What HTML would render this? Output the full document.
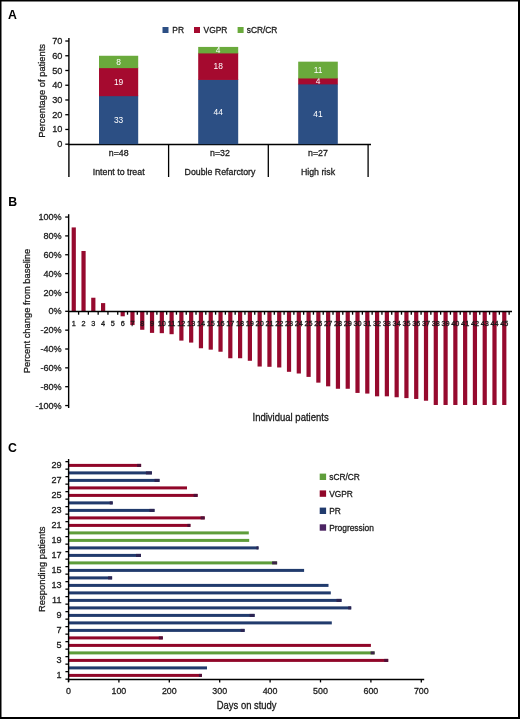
<!DOCTYPE html>
<html><head><meta charset="utf-8"><style>
html,body{margin:0;padding:0;background:#fff;}
svg{display:block;font-family:"Liberation Sans", sans-serif;will-change:transform;}
</style></head><body>
<svg width="520" height="719" viewBox="0 0 520 719">
<rect x="0" y="0" width="520" height="719" fill="#fff"/>
<rect x="0.00" y="0.00" width="520.00" height="1.50" fill="#000"/>
<rect x="0.00" y="0.00" width="1.50" height="719.00" fill="#000"/>
<rect x="518.00" y="0.00" width="2.00" height="719.00" fill="#000"/>
<rect x="0.00" y="717.00" width="520.00" height="2.00" fill="#000"/>
<text transform="translate(8.0,18.85) scale(0.92 1)" font-size="13.4" font-weight="bold" fill="#000">A</text>
<text transform="translate(8.3,205.85) scale(0.92 1)" font-size="13.4" font-weight="bold" fill="#000">B</text>
<text transform="translate(7.9,452.3) scale(0.92 1)" font-size="13.4" font-weight="bold" fill="#000">C</text>
<line x1="68.90" y1="38.00" x2="68.90" y2="177.00" stroke="#000" stroke-width="1.4"/>
<line x1="68.20" y1="144.50" x2="371.00" y2="144.50" stroke="#000" stroke-width="1.4"/>
<line x1="65.30" y1="144.20" x2="68.90" y2="144.20" stroke="#000" stroke-width="1.3"/>
<text x="62.40" y="147.20" font-size="9.2" text-anchor="end" fill="#1a1a1a" font-weight="normal" stroke="#1a1a1a" stroke-width="0.28" >0</text>
<line x1="65.30" y1="129.46" x2="68.90" y2="129.46" stroke="#000" stroke-width="1.3"/>
<text x="62.40" y="132.46" font-size="9.2" text-anchor="end" fill="#1a1a1a" font-weight="normal" stroke="#1a1a1a" stroke-width="0.28" >10</text>
<line x1="65.30" y1="114.72" x2="68.90" y2="114.72" stroke="#000" stroke-width="1.3"/>
<text x="62.40" y="117.72" font-size="9.2" text-anchor="end" fill="#1a1a1a" font-weight="normal" stroke="#1a1a1a" stroke-width="0.28" >20</text>
<line x1="65.30" y1="99.98" x2="68.90" y2="99.98" stroke="#000" stroke-width="1.3"/>
<text x="62.40" y="102.98" font-size="9.2" text-anchor="end" fill="#1a1a1a" font-weight="normal" stroke="#1a1a1a" stroke-width="0.28" >30</text>
<line x1="65.30" y1="85.24" x2="68.90" y2="85.24" stroke="#000" stroke-width="1.3"/>
<text x="62.40" y="88.24" font-size="9.2" text-anchor="end" fill="#1a1a1a" font-weight="normal" stroke="#1a1a1a" stroke-width="0.28" >40</text>
<line x1="65.30" y1="70.50" x2="68.90" y2="70.50" stroke="#000" stroke-width="1.3"/>
<text x="62.40" y="73.50" font-size="9.2" text-anchor="end" fill="#1a1a1a" font-weight="normal" stroke="#1a1a1a" stroke-width="0.28" >50</text>
<line x1="65.30" y1="55.76" x2="68.90" y2="55.76" stroke="#000" stroke-width="1.3"/>
<text x="62.40" y="58.76" font-size="9.2" text-anchor="end" fill="#1a1a1a" font-weight="normal" stroke="#1a1a1a" stroke-width="0.28" >60</text>
<line x1="65.30" y1="41.02" x2="68.90" y2="41.02" stroke="#000" stroke-width="1.3"/>
<text x="62.40" y="44.02" font-size="9.2" text-anchor="end" fill="#1a1a1a" font-weight="normal" stroke="#1a1a1a" stroke-width="0.28" >70</text>
<line x1="168.60" y1="144.00" x2="168.60" y2="177.00" stroke="#000" stroke-width="1.3"/>
<line x1="268.30" y1="144.00" x2="268.30" y2="177.00" stroke="#000" stroke-width="1.3"/>
<line x1="368.10" y1="144.00" x2="368.10" y2="177.00" stroke="#000" stroke-width="1.3"/>
<rect x="99.00" y="95.56" width="39.20" height="48.64" fill="#2c4f84"/>
<text x="118.60" y="122.88" font-size="8.4" text-anchor="middle" fill="#fff" font-weight="normal" >33</text>
<rect x="99.00" y="67.55" width="39.20" height="28.61" fill="#a50a2f"/>
<text x="118.60" y="84.55" font-size="8.4" text-anchor="middle" fill="#fff" font-weight="normal" >19</text>
<rect x="99.00" y="55.76" width="39.20" height="12.39" fill="#6aaa3c"/>
<text x="118.60" y="64.66" font-size="8.4" text-anchor="middle" fill="#fff" font-weight="normal" >8</text>
<rect x="198.20" y="79.34" width="40.00" height="64.86" fill="#2c4f84"/>
<text x="218.20" y="114.77" font-size="8.4" text-anchor="middle" fill="#fff" font-weight="normal" >44</text>
<rect x="198.20" y="52.81" width="40.00" height="27.13" fill="#a50a2f"/>
<text x="218.20" y="69.08" font-size="8.4" text-anchor="middle" fill="#fff" font-weight="normal" >18</text>
<rect x="198.20" y="46.92" width="40.00" height="6.50" fill="#6aaa3c"/>
<text x="218.20" y="52.86" font-size="8.4" text-anchor="middle" fill="#fff" font-weight="normal" >4</text>
<rect x="298.20" y="83.77" width="39.60" height="60.43" fill="#2c4f84"/>
<text x="318.00" y="116.98" font-size="8.4" text-anchor="middle" fill="#fff" font-weight="normal" >41</text>
<rect x="298.20" y="77.87" width="39.60" height="6.50" fill="#a50a2f"/>
<text x="318.00" y="83.82" font-size="8.4" text-anchor="middle" fill="#fff" font-weight="normal" >4</text>
<rect x="298.20" y="61.66" width="39.60" height="16.81" fill="#6aaa3c"/>
<text x="318.00" y="72.76" font-size="8.4" text-anchor="middle" fill="#fff" font-weight="normal" >11</text>
<text x="118.70" y="155.60" font-size="8.8" text-anchor="middle" fill="#1a1a1a" font-weight="normal" stroke="#1a1a1a" stroke-width="0.28" >n=48</text>
<text x="118.70" y="174.60" font-size="8.8" text-anchor="middle" fill="#1a1a1a" font-weight="normal" stroke="#1a1a1a" stroke-width="0.28" >Intent to treat</text>
<text x="220.00" y="155.60" font-size="8.8" text-anchor="middle" fill="#1a1a1a" font-weight="normal" stroke="#1a1a1a" stroke-width="0.28" >n=32</text>
<text x="220.00" y="174.60" font-size="8.8" text-anchor="middle" fill="#1a1a1a" font-weight="normal" stroke="#1a1a1a" stroke-width="0.28" >Double Refarctory</text>
<text x="318.00" y="155.60" font-size="8.8" text-anchor="middle" fill="#1a1a1a" font-weight="normal" stroke="#1a1a1a" stroke-width="0.28" >n=27</text>
<text x="318.00" y="174.60" font-size="8.8" text-anchor="middle" fill="#1a1a1a" font-weight="normal" stroke="#1a1a1a" stroke-width="0.28" >High risk</text>
<rect x="162.50" y="27.00" width="6.00" height="6.00" fill="#2c4f84"/>
<text x="172.30" y="33.00" font-size="8.4" text-anchor="start" fill="#1a1a1a" font-weight="normal" stroke="#1a1a1a" stroke-width="0.28" >PR</text>
<rect x="194.00" y="27.00" width="6.00" height="6.00" fill="#a50a2f"/>
<text x="203.60" y="33.00" font-size="8.4" text-anchor="start" fill="#1a1a1a" font-weight="normal" stroke="#1a1a1a" stroke-width="0.28" >VGPR</text>
<rect x="237.60" y="27.00" width="6.00" height="6.00" fill="#6aaa3c"/>
<text x="246.70" y="33.00" font-size="8.4" text-anchor="start" fill="#1a1a1a" font-weight="normal" stroke="#1a1a1a" stroke-width="0.28" >sCR/CR</text>
<text transform="translate(44.6,90.9) rotate(-90)" font-size="9.4" text-anchor="middle" fill="#1a1a1a" stroke="#1a1a1a" stroke-width="0.28">Percentage of patients</text>
<line x1="68.65" y1="214.20" x2="68.65" y2="408.00" stroke="#000" stroke-width="1.4"/>
<line x1="65.20" y1="217.05" x2="68.65" y2="217.05" stroke="#000" stroke-width="1.3"/>
<text x="61.70" y="220.15" font-size="9.1" text-anchor="end" fill="#1a1a1a" font-weight="normal" stroke="#1a1a1a" stroke-width="0.28" >100%</text>
<line x1="65.20" y1="235.90" x2="68.65" y2="235.90" stroke="#000" stroke-width="1.3"/>
<text x="61.70" y="239.00" font-size="9.1" text-anchor="end" fill="#1a1a1a" font-weight="normal" stroke="#1a1a1a" stroke-width="0.28" >80%</text>
<line x1="65.20" y1="254.75" x2="68.65" y2="254.75" stroke="#000" stroke-width="1.3"/>
<text x="61.70" y="257.85" font-size="9.1" text-anchor="end" fill="#1a1a1a" font-weight="normal" stroke="#1a1a1a" stroke-width="0.28" >60%</text>
<line x1="65.20" y1="273.60" x2="68.65" y2="273.60" stroke="#000" stroke-width="1.3"/>
<text x="61.70" y="276.70" font-size="9.1" text-anchor="end" fill="#1a1a1a" font-weight="normal" stroke="#1a1a1a" stroke-width="0.28" >40%</text>
<line x1="65.20" y1="292.45" x2="68.65" y2="292.45" stroke="#000" stroke-width="1.3"/>
<text x="61.70" y="295.55" font-size="9.1" text-anchor="end" fill="#1a1a1a" font-weight="normal" stroke="#1a1a1a" stroke-width="0.28" >20%</text>
<line x1="65.20" y1="311.30" x2="68.65" y2="311.30" stroke="#000" stroke-width="1.3"/>
<text x="61.70" y="314.40" font-size="9.1" text-anchor="end" fill="#1a1a1a" font-weight="normal" stroke="#1a1a1a" stroke-width="0.28" >0%</text>
<line x1="65.20" y1="330.15" x2="68.65" y2="330.15" stroke="#000" stroke-width="1.3"/>
<text x="61.70" y="333.25" font-size="9.1" text-anchor="end" fill="#1a1a1a" font-weight="normal" stroke="#1a1a1a" stroke-width="0.28" >-20%</text>
<line x1="65.20" y1="349.00" x2="68.65" y2="349.00" stroke="#000" stroke-width="1.3"/>
<text x="61.70" y="352.10" font-size="9.1" text-anchor="end" fill="#1a1a1a" font-weight="normal" stroke="#1a1a1a" stroke-width="0.28" >-40%</text>
<line x1="65.20" y1="367.85" x2="68.65" y2="367.85" stroke="#000" stroke-width="1.3"/>
<text x="61.70" y="370.95" font-size="9.1" text-anchor="end" fill="#1a1a1a" font-weight="normal" stroke="#1a1a1a" stroke-width="0.28" >-60%</text>
<line x1="65.20" y1="386.70" x2="68.65" y2="386.70" stroke="#000" stroke-width="1.3"/>
<text x="61.70" y="389.80" font-size="9.1" text-anchor="end" fill="#1a1a1a" font-weight="normal" stroke="#1a1a1a" stroke-width="0.28" >-80%</text>
<line x1="65.20" y1="405.55" x2="68.65" y2="405.55" stroke="#000" stroke-width="1.3"/>
<text x="61.70" y="408.65" font-size="9.1" text-anchor="end" fill="#1a1a1a" font-weight="normal" stroke="#1a1a1a" stroke-width="0.28" >-100%</text>
<rect x="71.65" y="227.42" width="4.20" height="83.88" fill="#960a2e"/>
<rect x="81.44" y="250.98" width="4.20" height="60.32" fill="#960a2e"/>
<rect x="91.22" y="297.73" width="4.20" height="13.57" fill="#960a2e"/>
<rect x="101.01" y="303.10" width="4.20" height="8.20" fill="#960a2e"/>
<rect x="120.58" y="311.30" width="4.20" height="5.00" fill="#960a2e"/>
<rect x="130.36" y="311.30" width="4.20" height="13.76" fill="#960a2e"/>
<rect x="140.15" y="311.30" width="4.20" height="18.47" fill="#960a2e"/>
<rect x="149.93" y="311.30" width="4.20" height="21.58" fill="#960a2e"/>
<rect x="159.72" y="311.30" width="4.20" height="21.87" fill="#960a2e"/>
<rect x="169.50" y="311.30" width="4.20" height="22.90" fill="#960a2e"/>
<rect x="179.28" y="311.30" width="4.20" height="29.31" fill="#960a2e"/>
<rect x="189.07" y="311.30" width="4.20" height="31.29" fill="#960a2e"/>
<rect x="198.85" y="311.30" width="4.20" height="36.95" fill="#960a2e"/>
<rect x="208.64" y="311.30" width="4.20" height="38.36" fill="#960a2e"/>
<rect x="218.43" y="311.30" width="4.20" height="40.43" fill="#960a2e"/>
<rect x="228.21" y="311.30" width="4.20" height="46.94" fill="#960a2e"/>
<rect x="238.00" y="311.30" width="4.20" height="46.94" fill="#960a2e"/>
<rect x="247.78" y="311.30" width="4.20" height="49.48" fill="#960a2e"/>
<rect x="257.56" y="311.30" width="4.20" height="55.23" fill="#960a2e"/>
<rect x="267.35" y="311.30" width="4.20" height="55.51" fill="#960a2e"/>
<rect x="277.13" y="311.30" width="4.20" height="56.17" fill="#960a2e"/>
<rect x="286.92" y="311.30" width="4.20" height="60.51" fill="#960a2e"/>
<rect x="296.70" y="311.30" width="4.20" height="62.20" fill="#960a2e"/>
<rect x="306.49" y="311.30" width="4.20" height="65.60" fill="#960a2e"/>
<rect x="316.27" y="311.30" width="4.20" height="71.35" fill="#960a2e"/>
<rect x="326.06" y="311.30" width="4.20" height="75.02" fill="#960a2e"/>
<rect x="335.84" y="311.30" width="4.20" height="77.47" fill="#960a2e"/>
<rect x="345.63" y="311.30" width="4.20" height="77.47" fill="#960a2e"/>
<rect x="355.41" y="311.30" width="4.20" height="81.62" fill="#960a2e"/>
<rect x="365.20" y="311.30" width="4.20" height="82.28" fill="#960a2e"/>
<rect x="374.98" y="311.30" width="4.20" height="85.01" fill="#960a2e"/>
<rect x="384.77" y="311.30" width="4.20" height="85.01" fill="#960a2e"/>
<rect x="394.56" y="311.30" width="4.20" height="85.96" fill="#960a2e"/>
<rect x="404.34" y="311.30" width="4.20" height="86.80" fill="#960a2e"/>
<rect x="414.12" y="311.30" width="4.20" height="87.65" fill="#960a2e"/>
<rect x="423.91" y="311.30" width="4.20" height="89.44" fill="#960a2e"/>
<rect x="433.69" y="311.30" width="4.20" height="93.68" fill="#960a2e"/>
<rect x="443.48" y="311.30" width="4.20" height="93.68" fill="#960a2e"/>
<rect x="453.26" y="311.30" width="4.20" height="93.68" fill="#960a2e"/>
<rect x="463.05" y="311.30" width="4.20" height="93.68" fill="#960a2e"/>
<rect x="472.83" y="311.30" width="4.20" height="93.68" fill="#960a2e"/>
<rect x="482.62" y="311.30" width="4.20" height="93.68" fill="#960a2e"/>
<rect x="492.40" y="311.30" width="4.20" height="93.68" fill="#960a2e"/>
<rect x="502.19" y="311.30" width="4.20" height="93.68" fill="#960a2e"/>
<line x1="67.95" y1="311.50" x2="512.00" y2="311.50" stroke="#000" stroke-width="1.4"/>
<text x="73.75" y="325.90" font-size="7.3" text-anchor="middle" fill="#1a1a1a" font-weight="normal" stroke="#1a1a1a" stroke-width="0.28" >1</text>
<text x="83.53" y="325.90" font-size="7.3" text-anchor="middle" fill="#1a1a1a" font-weight="normal" stroke="#1a1a1a" stroke-width="0.28" >2</text>
<text x="93.32" y="325.90" font-size="7.3" text-anchor="middle" fill="#1a1a1a" font-weight="normal" stroke="#1a1a1a" stroke-width="0.28" >3</text>
<text x="103.11" y="325.90" font-size="7.3" text-anchor="middle" fill="#1a1a1a" font-weight="normal" stroke="#1a1a1a" stroke-width="0.28" >4</text>
<text x="112.89" y="325.90" font-size="7.3" text-anchor="middle" fill="#1a1a1a" font-weight="normal" stroke="#1a1a1a" stroke-width="0.28" >5</text>
<text x="122.67" y="325.90" font-size="7.3" text-anchor="middle" fill="#1a1a1a" font-weight="normal" stroke="#1a1a1a" stroke-width="0.28" >6</text>
<text x="132.46" y="325.90" font-size="7.3" text-anchor="middle" fill="#1a1a1a" font-weight="normal" stroke="#1a1a1a" stroke-width="0.28" >7</text>
<text x="142.25" y="325.90" font-size="7.3" text-anchor="middle" fill="#1a1a1a" font-weight="normal" stroke="#1a1a1a" stroke-width="0.28" >8</text>
<text x="152.03" y="325.90" font-size="7.3" text-anchor="middle" fill="#1a1a1a" font-weight="normal" stroke="#1a1a1a" stroke-width="0.28" >9</text>
<text x="161.81" y="325.90" font-size="7.3" text-anchor="middle" fill="#1a1a1a" font-weight="normal" stroke="#1a1a1a" stroke-width="0.28" >10</text>
<text x="171.60" y="325.90" font-size="7.3" text-anchor="middle" fill="#1a1a1a" font-weight="normal" stroke="#1a1a1a" stroke-width="0.28" >11</text>
<text x="181.38" y="325.90" font-size="7.3" text-anchor="middle" fill="#1a1a1a" font-weight="normal" stroke="#1a1a1a" stroke-width="0.28" >12</text>
<text x="191.17" y="325.90" font-size="7.3" text-anchor="middle" fill="#1a1a1a" font-weight="normal" stroke="#1a1a1a" stroke-width="0.28" >13</text>
<text x="200.95" y="325.90" font-size="7.3" text-anchor="middle" fill="#1a1a1a" font-weight="normal" stroke="#1a1a1a" stroke-width="0.28" >14</text>
<text x="210.74" y="325.90" font-size="7.3" text-anchor="middle" fill="#1a1a1a" font-weight="normal" stroke="#1a1a1a" stroke-width="0.28" >15</text>
<text x="220.53" y="325.90" font-size="7.3" text-anchor="middle" fill="#1a1a1a" font-weight="normal" stroke="#1a1a1a" stroke-width="0.28" >16</text>
<text x="230.31" y="325.90" font-size="7.3" text-anchor="middle" fill="#1a1a1a" font-weight="normal" stroke="#1a1a1a" stroke-width="0.28" >17</text>
<text x="240.09" y="325.90" font-size="7.3" text-anchor="middle" fill="#1a1a1a" font-weight="normal" stroke="#1a1a1a" stroke-width="0.28" >18</text>
<text x="249.88" y="325.90" font-size="7.3" text-anchor="middle" fill="#1a1a1a" font-weight="normal" stroke="#1a1a1a" stroke-width="0.28" >19</text>
<text x="259.66" y="325.90" font-size="7.3" text-anchor="middle" fill="#1a1a1a" font-weight="normal" stroke="#1a1a1a" stroke-width="0.28" >20</text>
<text x="269.45" y="325.90" font-size="7.3" text-anchor="middle" fill="#1a1a1a" font-weight="normal" stroke="#1a1a1a" stroke-width="0.28" >21</text>
<text x="279.24" y="325.90" font-size="7.3" text-anchor="middle" fill="#1a1a1a" font-weight="normal" stroke="#1a1a1a" stroke-width="0.28" >22</text>
<text x="289.02" y="325.90" font-size="7.3" text-anchor="middle" fill="#1a1a1a" font-weight="normal" stroke="#1a1a1a" stroke-width="0.28" >23</text>
<text x="298.81" y="325.90" font-size="7.3" text-anchor="middle" fill="#1a1a1a" font-weight="normal" stroke="#1a1a1a" stroke-width="0.28" >24</text>
<text x="308.59" y="325.90" font-size="7.3" text-anchor="middle" fill="#1a1a1a" font-weight="normal" stroke="#1a1a1a" stroke-width="0.28" >25</text>
<text x="318.38" y="325.90" font-size="7.3" text-anchor="middle" fill="#1a1a1a" font-weight="normal" stroke="#1a1a1a" stroke-width="0.28" >26</text>
<text x="328.16" y="325.90" font-size="7.3" text-anchor="middle" fill="#1a1a1a" font-weight="normal" stroke="#1a1a1a" stroke-width="0.28" >27</text>
<text x="337.94" y="325.90" font-size="7.3" text-anchor="middle" fill="#1a1a1a" font-weight="normal" stroke="#1a1a1a" stroke-width="0.28" >28</text>
<text x="347.73" y="325.90" font-size="7.3" text-anchor="middle" fill="#1a1a1a" font-weight="normal" stroke="#1a1a1a" stroke-width="0.28" >29</text>
<text x="357.51" y="325.90" font-size="7.3" text-anchor="middle" fill="#1a1a1a" font-weight="normal" stroke="#1a1a1a" stroke-width="0.28" >30</text>
<text x="367.30" y="325.90" font-size="7.3" text-anchor="middle" fill="#1a1a1a" font-weight="normal" stroke="#1a1a1a" stroke-width="0.28" >31</text>
<text x="377.08" y="325.90" font-size="7.3" text-anchor="middle" fill="#1a1a1a" font-weight="normal" stroke="#1a1a1a" stroke-width="0.28" >32</text>
<text x="386.87" y="325.90" font-size="7.3" text-anchor="middle" fill="#1a1a1a" font-weight="normal" stroke="#1a1a1a" stroke-width="0.28" >33</text>
<text x="396.66" y="325.90" font-size="7.3" text-anchor="middle" fill="#1a1a1a" font-weight="normal" stroke="#1a1a1a" stroke-width="0.28" >34</text>
<text x="406.44" y="325.90" font-size="7.3" text-anchor="middle" fill="#1a1a1a" font-weight="normal" stroke="#1a1a1a" stroke-width="0.28" >35</text>
<text x="416.23" y="325.90" font-size="7.3" text-anchor="middle" fill="#1a1a1a" font-weight="normal" stroke="#1a1a1a" stroke-width="0.28" >36</text>
<text x="426.01" y="325.90" font-size="7.3" text-anchor="middle" fill="#1a1a1a" font-weight="normal" stroke="#1a1a1a" stroke-width="0.28" >37</text>
<text x="435.80" y="325.90" font-size="7.3" text-anchor="middle" fill="#1a1a1a" font-weight="normal" stroke="#1a1a1a" stroke-width="0.28" >38</text>
<text x="445.58" y="325.90" font-size="7.3" text-anchor="middle" fill="#1a1a1a" font-weight="normal" stroke="#1a1a1a" stroke-width="0.28" >39</text>
<text x="455.37" y="325.90" font-size="7.3" text-anchor="middle" fill="#1a1a1a" font-weight="normal" stroke="#1a1a1a" stroke-width="0.28" >40</text>
<text x="465.15" y="325.90" font-size="7.3" text-anchor="middle" fill="#1a1a1a" font-weight="normal" stroke="#1a1a1a" stroke-width="0.28" >41</text>
<text x="474.94" y="325.90" font-size="7.3" text-anchor="middle" fill="#1a1a1a" font-weight="normal" stroke="#1a1a1a" stroke-width="0.28" >42</text>
<text x="484.72" y="325.90" font-size="7.3" text-anchor="middle" fill="#1a1a1a" font-weight="normal" stroke="#1a1a1a" stroke-width="0.28" >43</text>
<text x="494.50" y="325.90" font-size="7.3" text-anchor="middle" fill="#1a1a1a" font-weight="normal" stroke="#1a1a1a" stroke-width="0.28" >44</text>
<text x="504.29" y="325.90" font-size="7.3" text-anchor="middle" fill="#1a1a1a" font-weight="normal" stroke="#1a1a1a" stroke-width="0.28" >45</text>
<line x1="78.60" y1="311.50" x2="78.60" y2="314.70" stroke="#000" stroke-width="1.3"/>
<line x1="88.38" y1="311.50" x2="88.38" y2="314.70" stroke="#000" stroke-width="1.3"/>
<line x1="98.17" y1="311.50" x2="98.17" y2="314.70" stroke="#000" stroke-width="1.3"/>
<line x1="107.95" y1="311.50" x2="107.95" y2="314.70" stroke="#000" stroke-width="1.3"/>
<line x1="117.74" y1="311.50" x2="117.74" y2="314.70" stroke="#000" stroke-width="1.3"/>
<line x1="127.52" y1="311.50" x2="127.52" y2="314.70" stroke="#000" stroke-width="1.3"/>
<line x1="137.31" y1="311.50" x2="137.31" y2="314.70" stroke="#000" stroke-width="1.3"/>
<line x1="147.09" y1="311.50" x2="147.09" y2="314.70" stroke="#000" stroke-width="1.3"/>
<line x1="156.88" y1="311.50" x2="156.88" y2="314.70" stroke="#000" stroke-width="1.3"/>
<line x1="166.66" y1="311.50" x2="166.66" y2="314.70" stroke="#000" stroke-width="1.3"/>
<line x1="176.45" y1="311.50" x2="176.45" y2="314.70" stroke="#000" stroke-width="1.3"/>
<line x1="186.24" y1="311.50" x2="186.24" y2="314.70" stroke="#000" stroke-width="1.3"/>
<line x1="196.02" y1="311.50" x2="196.02" y2="314.70" stroke="#000" stroke-width="1.3"/>
<line x1="205.81" y1="311.50" x2="205.81" y2="314.70" stroke="#000" stroke-width="1.3"/>
<line x1="215.59" y1="311.50" x2="215.59" y2="314.70" stroke="#000" stroke-width="1.3"/>
<line x1="225.38" y1="311.50" x2="225.38" y2="314.70" stroke="#000" stroke-width="1.3"/>
<line x1="235.16" y1="311.50" x2="235.16" y2="314.70" stroke="#000" stroke-width="1.3"/>
<line x1="244.94" y1="311.50" x2="244.94" y2="314.70" stroke="#000" stroke-width="1.3"/>
<line x1="254.73" y1="311.50" x2="254.73" y2="314.70" stroke="#000" stroke-width="1.3"/>
<line x1="264.51" y1="311.50" x2="264.51" y2="314.70" stroke="#000" stroke-width="1.3"/>
<line x1="274.30" y1="311.50" x2="274.30" y2="314.70" stroke="#000" stroke-width="1.3"/>
<line x1="284.09" y1="311.50" x2="284.09" y2="314.70" stroke="#000" stroke-width="1.3"/>
<line x1="293.87" y1="311.50" x2="293.87" y2="314.70" stroke="#000" stroke-width="1.3"/>
<line x1="303.65" y1="311.50" x2="303.65" y2="314.70" stroke="#000" stroke-width="1.3"/>
<line x1="313.44" y1="311.50" x2="313.44" y2="314.70" stroke="#000" stroke-width="1.3"/>
<line x1="323.23" y1="311.50" x2="323.23" y2="314.70" stroke="#000" stroke-width="1.3"/>
<line x1="333.01" y1="311.50" x2="333.01" y2="314.70" stroke="#000" stroke-width="1.3"/>
<line x1="342.79" y1="311.50" x2="342.79" y2="314.70" stroke="#000" stroke-width="1.3"/>
<line x1="352.58" y1="311.50" x2="352.58" y2="314.70" stroke="#000" stroke-width="1.3"/>
<line x1="362.37" y1="311.50" x2="362.37" y2="314.70" stroke="#000" stroke-width="1.3"/>
<line x1="372.15" y1="311.50" x2="372.15" y2="314.70" stroke="#000" stroke-width="1.3"/>
<line x1="381.93" y1="311.50" x2="381.93" y2="314.70" stroke="#000" stroke-width="1.3"/>
<line x1="391.72" y1="311.50" x2="391.72" y2="314.70" stroke="#000" stroke-width="1.3"/>
<line x1="401.50" y1="311.50" x2="401.50" y2="314.70" stroke="#000" stroke-width="1.3"/>
<line x1="411.29" y1="311.50" x2="411.29" y2="314.70" stroke="#000" stroke-width="1.3"/>
<line x1="421.08" y1="311.50" x2="421.08" y2="314.70" stroke="#000" stroke-width="1.3"/>
<line x1="430.86" y1="311.50" x2="430.86" y2="314.70" stroke="#000" stroke-width="1.3"/>
<line x1="440.64" y1="311.50" x2="440.64" y2="314.70" stroke="#000" stroke-width="1.3"/>
<line x1="450.43" y1="311.50" x2="450.43" y2="314.70" stroke="#000" stroke-width="1.3"/>
<line x1="460.22" y1="311.50" x2="460.22" y2="314.70" stroke="#000" stroke-width="1.3"/>
<line x1="470.00" y1="311.50" x2="470.00" y2="314.70" stroke="#000" stroke-width="1.3"/>
<line x1="479.78" y1="311.50" x2="479.78" y2="314.70" stroke="#000" stroke-width="1.3"/>
<line x1="489.57" y1="311.50" x2="489.57" y2="314.70" stroke="#000" stroke-width="1.3"/>
<line x1="499.36" y1="311.50" x2="499.36" y2="314.70" stroke="#000" stroke-width="1.3"/>
<line x1="509.14" y1="311.50" x2="509.14" y2="314.70" stroke="#000" stroke-width="1.3"/>
<text transform="translate(29.6,311.0) rotate(-90)" font-size="9.4" text-anchor="middle" fill="#1a1a1a" stroke="#1a1a1a" stroke-width="0.28">Percent change from baseline</text>
<text x="290.6" y="421.2" font-size="10.3" text-anchor="middle" fill="#1a1a1a" stroke="#1a1a1a" stroke-width="0.3" transform="translate(290.6 0) scale(0.925 1) translate(-290.6 0)">Individual patients</text>
<rect x="68.60" y="673.90" width="133.30" height="3.00" fill="#900629"/>
<rect x="198.90" y="673.90" width="3.00" height="3.00" fill="#4e1038"/>
<rect x="68.60" y="666.40" width="138.40" height="3.00" fill="#213b6d"/>
<rect x="68.60" y="658.90" width="319.60" height="3.00" fill="#900629"/>
<rect x="384.20" y="658.90" width="4.00" height="3.00" fill="#4e1038"/>
<rect x="68.60" y="651.40" width="306.00" height="3.00" fill="#5e9d3a"/>
<rect x="370.60" y="651.40" width="4.00" height="3.00" fill="#3c2448"/>
<rect x="68.60" y="643.90" width="302.30" height="3.00" fill="#900629"/>
<rect x="68.60" y="636.40" width="94.20" height="3.00" fill="#900629"/>
<rect x="158.80" y="636.40" width="4.00" height="3.00" fill="#4e1038"/>
<rect x="68.60" y="628.90" width="176.00" height="3.00" fill="#213b6d"/>
<rect x="240.60" y="628.90" width="4.00" height="3.00" fill="#2c2452"/>
<rect x="68.60" y="621.40" width="263.20" height="3.00" fill="#213b6d"/>
<rect x="68.60" y="613.90" width="186.00" height="3.00" fill="#213b6d"/>
<rect x="249.60" y="613.90" width="5.00" height="3.00" fill="#2c2452"/>
<rect x="68.60" y="606.40" width="282.60" height="3.00" fill="#213b6d"/>
<rect x="348.20" y="606.40" width="3.00" height="3.00" fill="#2c2452"/>
<rect x="68.60" y="598.90" width="272.90" height="3.00" fill="#213b6d"/>
<rect x="336.50" y="598.90" width="5.00" height="3.00" fill="#2c2452"/>
<rect x="68.60" y="591.40" width="262.20" height="3.00" fill="#213b6d"/>
<rect x="68.60" y="583.90" width="259.90" height="3.00" fill="#213b6d"/>
<rect x="68.60" y="576.40" width="43.50" height="3.00" fill="#213b6d"/>
<rect x="108.10" y="576.40" width="4.00" height="3.00" fill="#2c2452"/>
<rect x="68.60" y="568.90" width="235.50" height="3.00" fill="#213b6d"/>
<rect x="68.60" y="561.40" width="208.50" height="3.00" fill="#5e9d3a"/>
<rect x="272.10" y="561.40" width="5.00" height="3.00" fill="#3c2448"/>
<rect x="68.60" y="553.90" width="72.40" height="3.00" fill="#213b6d"/>
<rect x="136.00" y="553.90" width="5.00" height="3.00" fill="#2c2452"/>
<rect x="68.60" y="546.40" width="189.90" height="3.00" fill="#213b6d"/>
<rect x="256.50" y="546.40" width="2.00" height="3.00" fill="#2c2452"/>
<rect x="68.60" y="538.90" width="180.60" height="3.00" fill="#5e9d3a"/>
<rect x="68.60" y="531.40" width="180.20" height="3.00" fill="#5e9d3a"/>
<rect x="68.60" y="523.90" width="121.80" height="3.00" fill="#900629"/>
<rect x="187.40" y="523.90" width="3.00" height="3.00" fill="#4e1038"/>
<rect x="68.60" y="516.40" width="136.10" height="3.00" fill="#900629"/>
<rect x="200.70" y="516.40" width="4.00" height="3.00" fill="#4e1038"/>
<rect x="68.60" y="508.90" width="85.90" height="3.00" fill="#213b6d"/>
<rect x="149.50" y="508.90" width="5.00" height="3.00" fill="#2c2452"/>
<rect x="68.60" y="501.40" width="44.10" height="3.00" fill="#213b6d"/>
<rect x="109.70" y="501.40" width="3.00" height="3.00" fill="#2c2452"/>
<rect x="68.60" y="493.90" width="129.00" height="3.00" fill="#900629"/>
<rect x="193.60" y="493.90" width="4.00" height="3.00" fill="#4e1038"/>
<rect x="68.60" y="486.40" width="118.40" height="3.00" fill="#900629"/>
<rect x="68.60" y="478.90" width="90.90" height="3.00" fill="#213b6d"/>
<rect x="154.50" y="478.90" width="5.00" height="3.00" fill="#2c2452"/>
<rect x="68.60" y="471.40" width="83.30" height="3.00" fill="#213b6d"/>
<rect x="145.90" y="471.40" width="6.00" height="3.00" fill="#2c2452"/>
<rect x="68.60" y="463.90" width="72.50" height="3.00" fill="#900629"/>
<rect x="137.10" y="463.90" width="4.00" height="3.00" fill="#4e1038"/>
<line x1="68.60" y1="459.00" x2="68.60" y2="682.00" stroke="#000" stroke-width="1.4"/>
<line x1="67.90" y1="679.50" x2="424.20" y2="679.50" stroke="#000" stroke-width="1.4"/>
<line x1="65.40" y1="679.15" x2="68.60" y2="679.15" stroke="#000" stroke-width="1.3"/>
<line x1="65.40" y1="671.65" x2="68.60" y2="671.65" stroke="#000" stroke-width="1.3"/>
<line x1="65.40" y1="664.15" x2="68.60" y2="664.15" stroke="#000" stroke-width="1.3"/>
<line x1="65.40" y1="656.65" x2="68.60" y2="656.65" stroke="#000" stroke-width="1.3"/>
<line x1="65.40" y1="649.15" x2="68.60" y2="649.15" stroke="#000" stroke-width="1.3"/>
<line x1="65.40" y1="641.65" x2="68.60" y2="641.65" stroke="#000" stroke-width="1.3"/>
<line x1="65.40" y1="634.15" x2="68.60" y2="634.15" stroke="#000" stroke-width="1.3"/>
<line x1="65.40" y1="626.65" x2="68.60" y2="626.65" stroke="#000" stroke-width="1.3"/>
<line x1="65.40" y1="619.15" x2="68.60" y2="619.15" stroke="#000" stroke-width="1.3"/>
<line x1="65.40" y1="611.65" x2="68.60" y2="611.65" stroke="#000" stroke-width="1.3"/>
<line x1="65.40" y1="604.15" x2="68.60" y2="604.15" stroke="#000" stroke-width="1.3"/>
<line x1="65.40" y1="596.65" x2="68.60" y2="596.65" stroke="#000" stroke-width="1.3"/>
<line x1="65.40" y1="589.15" x2="68.60" y2="589.15" stroke="#000" stroke-width="1.3"/>
<line x1="65.40" y1="581.65" x2="68.60" y2="581.65" stroke="#000" stroke-width="1.3"/>
<line x1="65.40" y1="574.15" x2="68.60" y2="574.15" stroke="#000" stroke-width="1.3"/>
<line x1="65.40" y1="566.65" x2="68.60" y2="566.65" stroke="#000" stroke-width="1.3"/>
<line x1="65.40" y1="559.15" x2="68.60" y2="559.15" stroke="#000" stroke-width="1.3"/>
<line x1="65.40" y1="551.65" x2="68.60" y2="551.65" stroke="#000" stroke-width="1.3"/>
<line x1="65.40" y1="544.15" x2="68.60" y2="544.15" stroke="#000" stroke-width="1.3"/>
<line x1="65.40" y1="536.65" x2="68.60" y2="536.65" stroke="#000" stroke-width="1.3"/>
<line x1="65.40" y1="529.15" x2="68.60" y2="529.15" stroke="#000" stroke-width="1.3"/>
<line x1="65.40" y1="521.65" x2="68.60" y2="521.65" stroke="#000" stroke-width="1.3"/>
<line x1="65.40" y1="514.15" x2="68.60" y2="514.15" stroke="#000" stroke-width="1.3"/>
<line x1="65.40" y1="506.65" x2="68.60" y2="506.65" stroke="#000" stroke-width="1.3"/>
<line x1="65.40" y1="499.15" x2="68.60" y2="499.15" stroke="#000" stroke-width="1.3"/>
<line x1="65.40" y1="491.65" x2="68.60" y2="491.65" stroke="#000" stroke-width="1.3"/>
<line x1="65.40" y1="484.15" x2="68.60" y2="484.15" stroke="#000" stroke-width="1.3"/>
<line x1="65.40" y1="476.65" x2="68.60" y2="476.65" stroke="#000" stroke-width="1.3"/>
<line x1="65.40" y1="469.15" x2="68.60" y2="469.15" stroke="#000" stroke-width="1.3"/>
<line x1="65.40" y1="461.65" x2="68.60" y2="461.65" stroke="#000" stroke-width="1.3"/>
<text x="61.50" y="678.30" font-size="9.1" text-anchor="end" fill="#1a1a1a" font-weight="normal" stroke="#1a1a1a" stroke-width="0.28" >1</text>
<text x="61.50" y="663.30" font-size="9.1" text-anchor="end" fill="#1a1a1a" font-weight="normal" stroke="#1a1a1a" stroke-width="0.28" >3</text>
<text x="61.50" y="648.30" font-size="9.1" text-anchor="end" fill="#1a1a1a" font-weight="normal" stroke="#1a1a1a" stroke-width="0.28" >5</text>
<text x="61.50" y="633.30" font-size="9.1" text-anchor="end" fill="#1a1a1a" font-weight="normal" stroke="#1a1a1a" stroke-width="0.28" >7</text>
<text x="61.50" y="618.30" font-size="9.1" text-anchor="end" fill="#1a1a1a" font-weight="normal" stroke="#1a1a1a" stroke-width="0.28" >9</text>
<text x="61.50" y="603.30" font-size="9.1" text-anchor="end" fill="#1a1a1a" font-weight="normal" stroke="#1a1a1a" stroke-width="0.28" >11</text>
<text x="61.50" y="588.30" font-size="9.1" text-anchor="end" fill="#1a1a1a" font-weight="normal" stroke="#1a1a1a" stroke-width="0.28" >13</text>
<text x="61.50" y="573.30" font-size="9.1" text-anchor="end" fill="#1a1a1a" font-weight="normal" stroke="#1a1a1a" stroke-width="0.28" >15</text>
<text x="61.50" y="558.30" font-size="9.1" text-anchor="end" fill="#1a1a1a" font-weight="normal" stroke="#1a1a1a" stroke-width="0.28" >17</text>
<text x="61.50" y="543.30" font-size="9.1" text-anchor="end" fill="#1a1a1a" font-weight="normal" stroke="#1a1a1a" stroke-width="0.28" >19</text>
<text x="61.50" y="528.30" font-size="9.1" text-anchor="end" fill="#1a1a1a" font-weight="normal" stroke="#1a1a1a" stroke-width="0.28" >21</text>
<text x="61.50" y="513.30" font-size="9.1" text-anchor="end" fill="#1a1a1a" font-weight="normal" stroke="#1a1a1a" stroke-width="0.28" >23</text>
<text x="61.50" y="498.30" font-size="9.1" text-anchor="end" fill="#1a1a1a" font-weight="normal" stroke="#1a1a1a" stroke-width="0.28" >25</text>
<text x="61.50" y="483.30" font-size="9.1" text-anchor="end" fill="#1a1a1a" font-weight="normal" stroke="#1a1a1a" stroke-width="0.28" >27</text>
<text x="61.50" y="468.30" font-size="9.1" text-anchor="end" fill="#1a1a1a" font-weight="normal" stroke="#1a1a1a" stroke-width="0.28" >29</text>
<line x1="68.50" y1="679.20" x2="68.50" y2="682.40" stroke="#000" stroke-width="1.3"/>
<text x="68.50" y="693.60" font-size="8.9" text-anchor="middle" fill="#1a1a1a" font-weight="normal" stroke="#1a1a1a" stroke-width="0.28" >0</text>
<line x1="118.90" y1="679.20" x2="118.90" y2="682.40" stroke="#000" stroke-width="1.3"/>
<text x="118.90" y="693.60" font-size="8.9" text-anchor="middle" fill="#1a1a1a" font-weight="normal" stroke="#1a1a1a" stroke-width="0.28" >100</text>
<line x1="169.30" y1="679.20" x2="169.30" y2="682.40" stroke="#000" stroke-width="1.3"/>
<text x="169.30" y="693.60" font-size="8.9" text-anchor="middle" fill="#1a1a1a" font-weight="normal" stroke="#1a1a1a" stroke-width="0.28" >200</text>
<line x1="219.70" y1="679.20" x2="219.70" y2="682.40" stroke="#000" stroke-width="1.3"/>
<text x="219.70" y="693.60" font-size="8.9" text-anchor="middle" fill="#1a1a1a" font-weight="normal" stroke="#1a1a1a" stroke-width="0.28" >300</text>
<line x1="270.10" y1="679.20" x2="270.10" y2="682.40" stroke="#000" stroke-width="1.3"/>
<text x="270.10" y="693.60" font-size="8.9" text-anchor="middle" fill="#1a1a1a" font-weight="normal" stroke="#1a1a1a" stroke-width="0.28" >400</text>
<line x1="320.50" y1="679.20" x2="320.50" y2="682.40" stroke="#000" stroke-width="1.3"/>
<text x="320.50" y="693.60" font-size="8.9" text-anchor="middle" fill="#1a1a1a" font-weight="normal" stroke="#1a1a1a" stroke-width="0.28" >500</text>
<line x1="370.90" y1="679.20" x2="370.90" y2="682.40" stroke="#000" stroke-width="1.3"/>
<text x="370.90" y="693.60" font-size="8.9" text-anchor="middle" fill="#1a1a1a" font-weight="normal" stroke="#1a1a1a" stroke-width="0.28" >600</text>
<line x1="421.30" y1="679.20" x2="421.30" y2="682.40" stroke="#000" stroke-width="1.3"/>
<text x="421.30" y="693.60" font-size="8.9" text-anchor="middle" fill="#1a1a1a" font-weight="normal" stroke="#1a1a1a" stroke-width="0.28" >700</text>
<text transform="translate(45.0,569.2) rotate(-90)" font-size="9.4" text-anchor="middle" fill="#1a1a1a" stroke="#1a1a1a" stroke-width="0.28">Responding patients</text>
<text x="246.7" y="708.7" font-size="10.5" text-anchor="middle" fill="#1a1a1a" stroke="#1a1a1a" stroke-width="0.3" transform="translate(246.7 0) scale(0.9 1) translate(-246.7 0)">Days on study</text>
<rect x="319.70" y="473.60" width="6.40" height="6.40" fill="#5e9d3a"/>
<text x="329.20" y="479.80" font-size="8.4" text-anchor="start" fill="#1a1a1a" font-weight="normal" stroke="#1a1a1a" stroke-width="0.28" >sCR/CR</text>
<rect x="319.70" y="490.40" width="6.40" height="6.40" fill="#900629"/>
<text x="329.20" y="496.60" font-size="8.4" text-anchor="start" fill="#1a1a1a" font-weight="normal" stroke="#1a1a1a" stroke-width="0.28" >VGPR</text>
<rect x="319.70" y="507.60" width="6.40" height="6.40" fill="#213b6d"/>
<text x="329.20" y="513.80" font-size="8.4" text-anchor="start" fill="#1a1a1a" font-weight="normal" stroke="#1a1a1a" stroke-width="0.28" >PR</text>
<rect x="319.70" y="524.30" width="6.40" height="6.40" fill="#4b2362"/>
<text x="329.20" y="530.50" font-size="8.4" text-anchor="start" fill="#1a1a1a" font-weight="normal" stroke="#1a1a1a" stroke-width="0.28" >Progression</text>
</svg>
</body></html>
